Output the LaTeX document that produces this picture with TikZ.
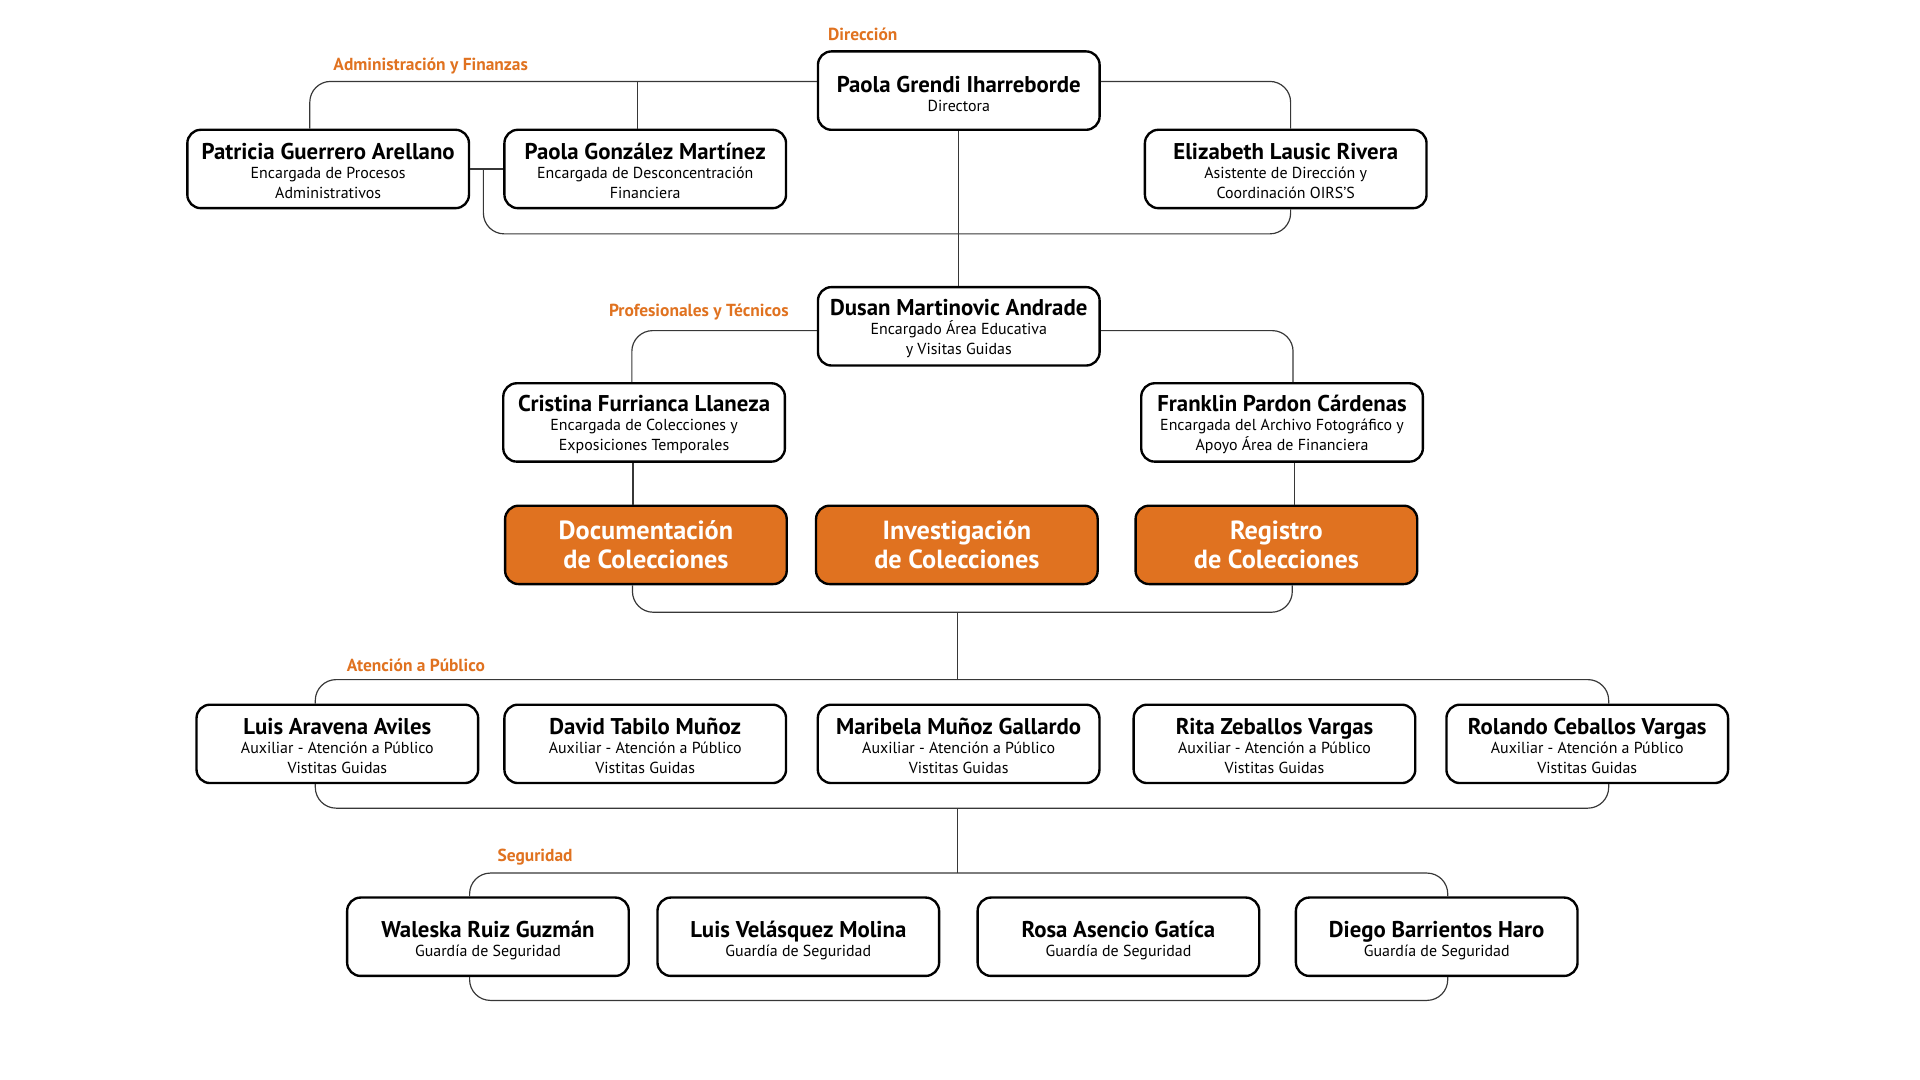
\documentclass[tikz,border=0pt]{standalone}
\usepackage{fontspec}
\setmainfont{PT Sans}
\usetikzlibrary{positioning, calc}
\definecolor{naranja}{RGB}{224,114,32}
\definecolor{linea}{RGB}{55,55,55}
\tikzstyle{cargo}=[draw, line width=1.1pt, rounded corners=2.2mm, minimum width=46mm, minimum height=12.8mm, align=center, inner sep=0pt, font=\fontsize{7.4}{9.1}\selectfont]
\tikzstyle{area}=[cargo, fill=naranja, text=white, font=\bfseries\fontsize{12.2}{13.2}\selectfont]
\tikzstyle{rotulo}=[text=naranja, anchor=west, inner sep=0pt, font=\bfseries\fontsize{8.1}{9}\selectfont]
\tikzstyle{enlace}=[draw=linea, line width=0.55pt, rounded corners=3.4mm]
\newcommand{\nombre}[2][9.4pt]{{\rule{0pt}{#1}\bfseries\fontsize{10.6}{11.5}\selectfont #2}\\[-0.2pt]}

\begin{document}
\begin{tikzpicture}[x=0.2mm, y=-0.2mm]
  \useasboundingbox (0,0) rectangle (1568,882);
  % Direccion
  \node[cargo] (grendi) at (783,74) {\nombre[11pt]{Paola Grendi Iharreborde}Directora};
  \node[cargo] (patricia) at (268,138) {\nombre{Patricia Guerrero Arellano}Encargada de Procesos\\Administrativos};
  \node[cargo] (gonzalez) [right=5.4mm of patricia] {\nombre{Paola González Martínez}Encargada de Desconcentración\\Financiera};
  \node[cargo] (elizabeth) at (1050,138) {\nombre{Elizabeth Lausic Rivera}Asistente de Dirección y\\Coordinación OIRS'S};
  \node[rotulo] (dirlabel) at (676,28) {Dirección};
  \node[rotulo] (adminlabel) at (272,54) {Administración y Finanzas};
  % Profesionales
  \node[cargo] (dusan) at (783,266.5) {\nombre{Dusan Martinovic Andrade}Encargado Área Educativa\\y Visitas Guidas};
  \node[cargo] (cristina) at (526,345) {\nombre{Cristina Furrianca Llaneza}Encargada de Colecciones y\\Exposiciones Temporales};
  \node[cargo] (franklin) at (1047,345) {\nombre{Franklin Pardon Cárdenas}Encargada del Archivo Fotográfico y\\Apoyo Área de Financiera};
  \node[rotulo] (prolabel) at (497,255) {Profesionales y Técnicos};
  \node[area] (docu) at (527.5,445) {Documentación\\de Colecciones};
  \node[area] (inves) [right=4.4mm of docu] {Investigación\\de Colecciones};
  \node[area] (regis) [right=5.8mm of inves] {Registro\\de Colecciones};
  % Atencion a Publico
  \node[cargo] (luis) at (275.5,607.5) {\nombre{Luis Aravena Aviles}Auxiliar - Atención a Público\\Vistitas Guidas};
  \node[cargo] (david) [right=3.9mm of luis] {\nombre{David Tabilo Muñoz}Auxiliar - Atención a Público\\Vistitas Guidas};
  \node[cargo] (maribela) [right=4.8mm of david] {\nombre{Maribela Muñoz Gallardo}Auxiliar - Atención a Público\\Vistitas Guidas};
  \node[cargo] (rita) [right=5.2mm of maribela] {\nombre{Rita Zeballos Vargas}Auxiliar - Atención a Público\\Vistitas Guidas};
  \node[cargo] (rolando) [right=4.7mm of rita] {\nombre{Rolando Ceballos Vargas}Auxiliar - Atención a Público\\Vistitas Guidas};
  \node[rotulo] (atlabel) at (283,543) {Atención a Público};
  % Seguridad
  \node[cargo] (waleska) at (398.5,765) {\nombre[11.4pt]{Waleska Ruiz Guzmán}Guardía de Seguridad};
  \node[cargo] (velasquez) [right=4.3mm of waleska] {\nombre[11.4pt]{Luis Velásquez Molina}Guardía de Seguridad};
  \node[cargo] (rosa) [right=5.9mm of velasquez] {\nombre[11.4pt]{Rosa Asencio Gatíca}Guardía de Seguridad};
  \node[cargo] (diego) [right=5.6mm of rosa] {\nombre[11.4pt]{Diego Barrientos Haro}Guardía de Seguridad};
  \node[rotulo] (seglabel) at (406,700) {Seguridad};

  \coordinate (dirbus) at ([yshift=1.5mm]grendi.west);
  \coordinate (dirlow) at (783,191);
  \coordinate (j1) at ($(patricia.east)!0.4!(gonzalez.west)$);
  \coordinate (colbus) at (782,500);
  \coordinate (atbus) at (782,555);
  \coordinate (atlow) at (782,660);
  \coordinate (segbus) at (782,713);
  \coordinate (seglow) at (782,817);

  \path[enlace] (dirbus) -| ($(patricia.north)+(-15,0)$);
  \path[enlace, sharp corners] (dirbus) -| ($(gonzalez.north)+(-6,0)$);
  \path[enlace] ([yshift=1.5mm]grendi.east) -| ($(elizabeth.north)+(4,0)$);
  \path[enlace] (patricia.east) -- (gonzalez.west);
  \path[enlace] (j1) |- (dirlow) -| ($(elizabeth.south)+(4,0)$);
  \path[enlace] (grendi.south) -- (dusan.north);

  \path[enlace] ([yshift=-0.7mm]dusan.west) -| ($(cristina.north)+(-10,0)$);
  \path[enlace] ([yshift=-0.7mm]dusan.east) -| ($(franklin.north)+(9,0)$);
  \path[enlace] ($(cristina.south)+(-9,0)$) coordinate (c1) -- (c1 |- docu.north);
  \path[enlace] ($(franklin.south)+(10,0)$) coordinate (f1) -- (f1 |- regis.north);
  \path[enlace] ($(docu.south)+(-11,0)$) |- (colbus) -| ($(regis.south)+(13,0)$);
  \path[enlace] (colbus) -- (atbus);

  \path[enlace] ($(luis.north)+(-18,0)$) |- (atbus) -| ($(rolando.north)+(17.5,0)$);
  \path[enlace] ($(luis.south)+(-18,0)$) |- (atlow) -| ($(rolando.south)+(17.5,0)$);
  \path[enlace] (atlow) -- (segbus);

  \path[enlace] ($(waleska.north)+(-15,0)$) |- (segbus) -| ($(diego.north)+(9,0)$);
  \path[enlace] ($(waleska.south)+(-15,0)$) |- (seglow) -| ($(diego.south)+(9,0)$);
\end{tikzpicture}
\end{document}
